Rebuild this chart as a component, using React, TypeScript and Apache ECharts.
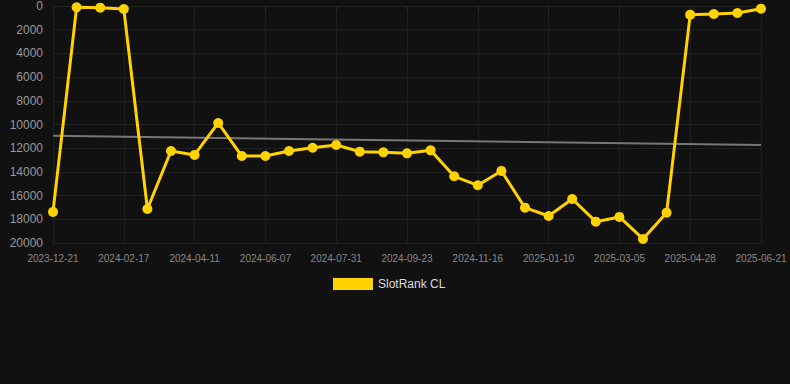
import React, { useEffect, useRef } from "react";
import * as echarts from "echarts";

const dates = [
  "2023-12-21", "2024-01-09", "2024-01-28", "2024-02-17", "2024-03-07", "2024-03-24",
  "2024-04-11", "2024-04-29", "2024-05-18", "2024-06-07", "2024-06-25", "2024-07-13",
  "2024-07-31", "2024-08-18", "2024-09-05", "2024-09-23", "2024-10-11", "2024-10-29",
  "2024-11-16", "2024-12-04", "2024-12-22", "2025-01-10", "2025-01-28", "2025-02-15",
  "2025-03-05", "2025-03-23", "2025-04-10", "2025-04-28", "2025-05-16", "2025-06-03",
  "2025-06-21",
];

const rankValues = [
  17380, 110, 140, 250, 17130, 12240, 12570, 9870, 12660, 12660, 12240, 11960,
  11730, 12290, 12350, 12430, 12180, 14370, 15130, 13920, 17020, 17720, 16290,
  18200, 17800, 19660, 17440, 730, 675, 590, 225,
];

const trendStart = 10950;
const trendEnd = 11730;

export default function App() {
  const ref = useRef<HTMLDivElement>(null);
  useEffect(() => {
    if (!ref.current) return;
    const chart = echarts.init(ref.current, null, { renderer: "svg" });
    const trend = dates.map((_, i) =>
      i === 0 ? trendStart : i === dates.length - 1 ? trendEnd : null
    );
    chart.setOption({
      animation: false,
      backgroundColor: "#111111",
      grid: { left: 53, right: 29, top: 6, bottom: 141 },
      legend: {
        data: ["SlotRank CL"],
        top: 273,
        left: 328,
        itemWidth: 40,
        itemHeight: 12,
        itemGap: 10,
        icon: "rect",
        textStyle: { color: "#dddddd", fontSize: 12, fontFamily: "Arial, Liberation Sans, sans-serif" },
      },
      xAxis: {
        type: "category",
        data: dates,
        boundaryGap: false,
        axisLine: { show: false },
        axisTick: { show: true, interval: 2, lineStyle: { color: "#2a2a2a" } },
        axisLabel: {
          interval: 2,
          color: "#888888",
          fontSize: 10,
          margin: 10,
          fontFamily: "Arial, Liberation Sans, sans-serif",
        },
        splitLine: { show: true, interval: 2, lineStyle: { color: "#1e1e1e" } },
      },
      yAxis: {
        type: "value",
        inverse: true,
        min: 0,
        max: 20000,
        interval: 2000,
        axisLine: { show: false },
        axisTick: { show: false },
        axisLabel: {
          color: "#999999",
          fontSize: 12,
          margin: 10,
          formatter: (v: number) => String(v),
          fontFamily: "Arial, Liberation Sans, sans-serif",
        },
        splitLine: { show: true, lineStyle: { color: "#222222" } },
      },
      series: [
        {
          name: "SlotRank CL",
          type: "line",
          data: rankValues,
          symbol: "circle",
          symbolSize: 10,
          itemStyle: { color: "#FFD200" },
          lineStyle: { color: "#FFD200", width: 3 },
          z: 3,
        },
        {
          name: "Trend",
          type: "line",
          data: trend,
          connectNulls: true,
          symbol: "none",
          lineStyle: { color: "#777777", width: 2 },
          z: 2,
        },
      ],
    });
    return () => chart.dispose();
  }, []);
  return (
    <div
      ref={ref}
      style={{ position: "fixed", left: 0, top: 0, width: 790, height: 384 }}
    />
  );
}
